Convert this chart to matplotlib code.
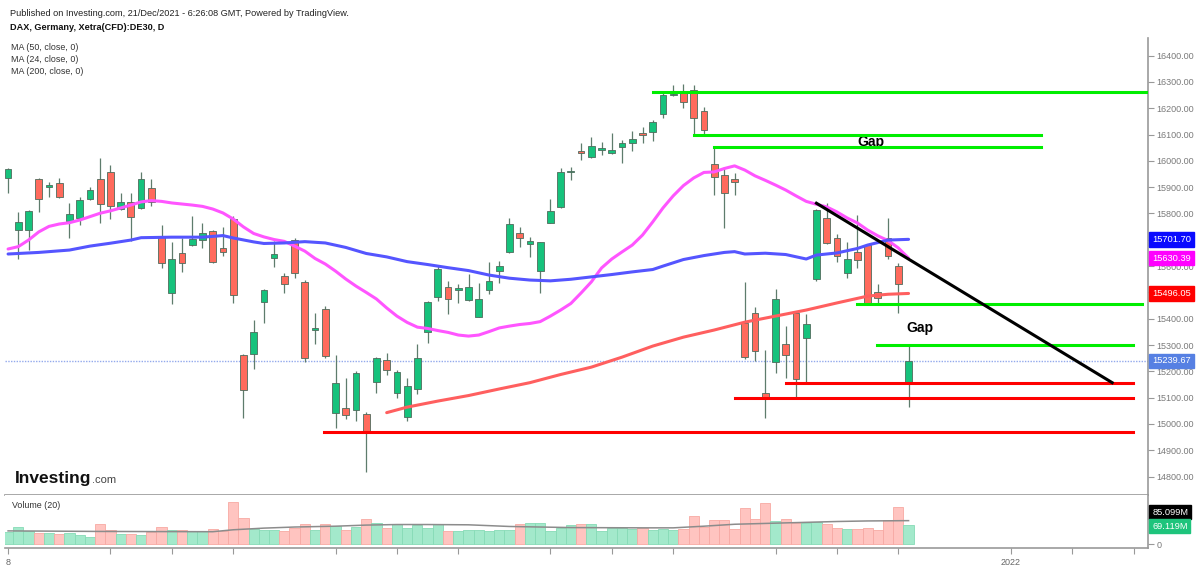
import numpy as np
import matplotlib
matplotlib.use("Agg")
import matplotlib.pyplot as plt

plt.rcParams['font.family'] = ['Liberation Sans', 'DejaVu Sans']

# daily candles (index 0 = first visible bar)
opens = [15936, 15737, 15737, 15931, 15900, 15915, 15773, 15782, 15856, 15930,
         15959, 15816, 15843, 15820, 15898, 15714, 15499, 15649, 15680, 15700,
         15733, 15669, 15778, 15261, 15265, 15462, 15632, 15562, 15699, 15541,
         15357, 15436, 15040, 15059, 15053, 15038, 15160, 15243, 15116, 15025,
         15132, 15351, 15484, 15519, 15509, 15471, 15408, 15509, 15581, 15652,
         15727, 15684, 15581, 15765, 15826, 15958, 16039, 16014, 16041, 16029,
         16053, 16069, 16105, 16111, 16178, 16249, 16263, 16270, 16191, 15988,
         15945, 15930, 15383, 15421, 15116, 15234, 15304, 15423, 15325, 15550,
         15782, 15706, 15573, 15652, 15680, 15503, 15708, 15600, 15154]
highs = [15973, 15807, 15812, 15935, 15921, 15936, 15839, 15864, 15900, 16010,
         15984, 15877, 15877, 15959, 15930, 15756, 15693, 15706, 15790, 15765,
         15737, 15748, 15792, 15265, 15395, 15512, 15697, 15575, 15706, 15547,
         15423, 15448, 15262, 15176, 15202, 15046, 15255, 15268, 15205, 15173,
         15303, 15468, 15604, 15544, 15532, 15570, 15535, 15617, 15619, 15784,
         15748, 15712, 15692, 15854, 15973, 15978, 16067, 16090, 16073, 16107,
         16079, 16115, 16128, 16156, 16267, 16289, 16292, 16289, 16206, 16054,
         15976, 15953, 15541, 15446, 15281, 15512, 15372, 15428, 15418, 15818,
         15839, 15722, 15693, 15794, 15684, 15532, 15784, 15611, 15300]
lows = [15878, 15626, 15661, 15807, 15864, 15858, 15706, 15756, 15851, 15765,
        15778, 15813, 15697, 15816, 15829, 15592, 15456, 15576, 15676, 15668,
        15611, 15640, 15459, 15021, 15208, 15383, 15598, 15499, 15556, 15237,
        15304, 15249, 14983, 15017, 15012, 14818, 15116, 15186, 15097, 15012,
        15113, 15306, 15468, 15418, 15459, 15468, 15405, 15494, 15535, 15648,
        15674, 15633, 15499, 15762, 15820, 15927, 16003, 16012, 16022, 16027,
        15991, 16037, 16069, 16077, 16162, 16245, 16200, 16098, 16098, 15870,
        15744, 15870, 15246, 15240, 15021, 15192, 15173, 15101, 15157, 15545,
        15684, 15617, 15554, 15592, 15452, 15456, 15626, 15423, 15063]
closes = [15968, 15769, 15808, 15854, 15908, 15862, 15797, 15851, 15889, 15836,
          15829, 15843, 15786, 15932, 15845, 15613, 15626, 15611, 15703, 15725,
          15614, 15652, 15490, 15129, 15348, 15509, 15645, 15532, 15575, 15249,
          15363, 15259, 15157, 15034, 15192, 14970, 15249, 15205, 15199, 15145,
          15249, 15465, 15588, 15475, 15516, 15522, 15474, 15543, 15600, 15760,
          15706, 15697, 15690, 15808, 15958, 15963, 16031, 16056, 16048, 16041,
          16069, 16084, 16097, 16149, 16251, 16254, 16225, 16162, 16117, 15938,
          15879, 15920, 15255, 15278, 15100, 15474, 15262, 15170, 15380, 15813,
          15687, 15640, 15626, 15623, 15456, 15478, 15638, 15531, 15239.67]
# volume in millions
volumes = [45, 62, 47, 39, 41, 35, 39, 33, 27, 74,
           53, 35, 38, 33, 45, 62, 52, 53, 48, 48,
           56, 48, 154, 95, 55, 52, 52, 48, 58, 74,
           53, 72, 66, 51, 61, 91, 75, 59, 74, 59,
           69, 59, 72, 47, 47, 52, 52, 47, 50, 53,
           72, 76, 76, 47, 59, 70, 74, 74, 47, 59,
           59, 56, 59, 50, 55, 51, 55, 103, 63, 88,
           86, 55, 130, 91, 148, 83, 91, 75, 75, 81,
           72, 59, 55, 55, 59, 52, 87, 136, 69.119]

# moving averages
ma24 = [15665, 15674, 15699, 15730, 15751, 15760, 15765, 15775, 15788, 15801,
        15810, 15821, 15832, 15844, 15849, 15846, 15840, 15836, 15832, 15827,
        15817, 15802, 15779, 15749, 15724, 15711, 15701, 15694, 15676, 15657,
        15629, 15608, 15581, 15551, 15524, 15500, 15475, 15441, 15410, 15386,
        15368, 15363, 15355, 15348, 15338, 15334, 15338, 15351, 15365, 15372,
        15378, 15382, 15389, 15410, 15433, 15458, 15498, 15540, 15593, 15627,
        15654, 15680, 15718, 15768, 15821, 15867, 15906, 15935, 15956, 15958,
        15971, 15981, 15965, 15943, 15926, 15908, 15889, 15867, 15846, 15835,
        15825, 15806, 15783, 15764, 15737, 15715, 15697, 15669, 15630.39]
ma50_idx = [0, 3, 6, 8, 10, 12, 13, 16, 19, 21, 22, 24, 25, 27, 29, 31, 33, 35, 37, 39,
            41, 43, 45, 47, 49, 51, 53, 55, 57, 59, 61, 63, 64, 66, 68, 70, 71, 72, 74,
            76, 78, 79, 81, 83, 84, 86, 88]
ma50_val = [15646, 15652, 15661, 15676, 15687, 15699, 15708, 15710, 15710, 15716, 15707,
            15692, 15686, 15688, 15693, 15688, 15671, 15648, 15635, 15617, 15606, 15594,
            15583, 15566, 15554, 15547, 15544, 15550, 15559, 15568, 15578, 15587, 15600,
            15625, 15640, 15652, 15655, 15646, 15649, 15644, 15627, 15642, 15650, 15667,
            15680, 15699, 15701.70]
ma200_idx = [37, 39, 42, 45, 48, 51, 54, 57, 60, 63, 66, 69, 72, 75, 78, 81, 84, 86, 88]
ma200_val = [15043, 15064, 15087, 15108, 15133, 15157, 15188, 15216, 15254, 15296,
             15330, 15357, 15387, 15410, 15433, 15460, 15486, 15493, 15496.05]
vol_ma_idx = [0, 9, 20, 22, 25, 28, 32, 35, 38, 41, 45, 49, 55, 62, 65, 68, 71, 75, 78, 81, 84, 88]
vol_ma_val = [48, 46, 45, 52, 58, 62, 65, 69, 71, 71, 70, 64, 60, 59, 59, 65, 72, 76, 79, 82, 84, 85.099]

# drawn levels: (price, start bar, end bar)
green_levels = [(16263, 63, 111.4), (16097, 67, 100.9), (16052, 69, 100.9),
                (15456, 83, 110.8), (15300, 84.9, 109.9)]
red_levels = [(15154, 76, 109.9), (15097, 71, 109.9), (14970, 30.9, 109.9)]
trend_x = [79, 107.9]
trend_y = [15839, 15157]

x_ticks = [0, 10, 16, 22, 32, 38, 44, 53, 59, 65, 75, 81, 87, 98, 104, 110]
x_labels = {0: '8', 98: '2022'}
# price-scale labels hidden under the value tags
hidden_ticks = [15500, 15700]

W, H = 1200, 566
fig = plt.figure(figsize=(W / 100, H / 100), dpi=100)
fig.patch.set_facecolor('white')

def fx(px):
    return px / W

def fy(py):
    return 1 - py / H

ax = fig.add_axes([fx(5), fy(495), fx(1148) - fx(5), fy(38) - fy(495)])
axv = fig.add_axes([fx(5), fy(548), fx(1148) - fx(5), fy(495) - fy(548)], sharex=ax)

idx = np.arange(len(closes))
up = np.array(closes) >= np.array(opens)
body_lo = np.minimum(opens, closes)
body_h = np.maximum(np.abs(np.array(closes) - np.array(opens)), 5)

green = '#16c27c'
red = '#ff6a5c'
edge = '#4f6b5c'

ax.vlines(idx, lows, highs, color='#5e7c6c', lw=0.9, zorder=2)
ax.bar(idx, body_h, bottom=body_lo, width=0.66,
       color=[green if u else red for u in up], edgecolor=edge, lw=0.6, zorder=2.2)

ax.plot(np.arange(len(ma24)), ma24, color='#ff55ff', lw=2.2, zorder=3, solid_capstyle='round')
ax.plot(ma50_idx, ma50_val, color='#5555ff', lw=2.2, zorder=3, solid_capstyle='round')
ax.plot(ma200_idx, ma200_val, color='#ff5f5f', lw=2.2, zorder=3, solid_capstyle='round')

ax.axhline(closes[-1], color='#93a9ec', lw=1.0, ls=(0, (1, 1)), zorder=1)

for p, a, b in green_levels:
    ax.plot([a, b], [p, p], color='#00ee00', lw=2.2, zorder=4)
for p, a, b in red_levels:
    ax.plot([a, b], [p, p], color='#ff0000', lw=2.2, zorder=4)
ax.plot(trend_x, trend_y, color='black', lw=2.2, zorder=4)

ax.text(84.3, 16072, 'Gap', fontsize=10, fontweight='bold', ha='center', va='center')
ax.text(89.1, 15365, 'Gap', fontsize=10, fontweight='bold', ha='center', va='center')

ax.set_xlim(-0.3, 111.4)
ax.set_ylim(14730, 16467)
ax.set_yticks(np.arange(14800, 16401, 100))
ax.yaxis.set_major_formatter(plt.FuncFormatter(
    lambda v, _: '' if round(v) in hidden_ticks else f'{v:.2f}'))
ax.yaxis.tick_right()
ax.tick_params(axis='y', labelsize=6.5, labelcolor='#7a7a7a', color='#999999',
               length=4, width=0.8, pad=2)
ax.tick_params(axis='x', bottom=False, labelbottom=False)
for s in ['top', 'left']:
    ax.spines[s].set_visible(False)
ax.spines['right'].set_color('#999999')
ax.spines['bottom'].set_color('#999999')
ax.spines['right'].set_linewidth(1.2)
ax.spines['bottom'].set_linewidth(1.2)

# volume pane
vcol = ['#a3e9cb' if u else '#ffc4c0' for u in up]
vedge = ['#86dbb6' if u else '#f7a9a3' for u in up]
axv.bar(idx, volumes, width=1.0, color=vcol, edgecolor=vedge, lw=0.6, zorder=2)
axv.plot(vol_ma_idx, vol_ma_val, color='#8c8c8c', lw=1.1, zorder=3)
axv.set_ylim(-14, 178)
axv.set_yticks([0])
axv.set_yticklabels(['0'])
axv.yaxis.tick_right()
axv.tick_params(axis='y', labelsize=6.5, labelcolor='#7a7a7a', color='#999999',
                length=4, width=0.8, pad=2)
axv.set_xticks(x_ticks)
axv.set_xticklabels([x_labels.get(t, '') for t in x_ticks])
axv.tick_params(axis='x', labelsize=6.5, labelcolor='#666666', color='#999999',
                length=4, width=0.8, pad=3)
axv.spines['top'].set_visible(False)
axv.spines['left'].set_visible(False)
axv.spines['right'].set_color('#999999')
axv.spines['bottom'].set_color('#999999')
axv.spines['right'].set_linewidth(1.2)
axv.spines['bottom'].set_linewidth(1.2)

# value tags on the price scale
def tag(axis, value, text, bg):
    axis.annotate(text, xy=(1.0, value), xycoords=('axes fraction', 'data'),
                  xytext=(3, 0), textcoords='offset points', ha='left', va='center',
                  fontsize=6.7, color='white', zorder=10, annotation_clip=False,
                  bbox=dict(boxstyle='square,pad=0.3', fc=bg, ec=bg))

tag(ax, ma50_val[-1], f'{ma50_val[-1]:.2f}', '#0a0aff')
tag(ax, ma24[-1], f'{ma24[-1]:.2f}', '#ff00ff')
tag(ax, ma200_val[-1], f'{ma200_val[-1]:.2f}', '#ff0000')
tag(ax, closes[-1], f'{closes[-1]:.2f}', '#5680e3')
# the two volume tags are stacked apart on the scale, as in the original
tag(axv, 116, f'{vol_ma_val[-1]:.3f}M', '#000000')
tag(axv, 65, f'{volumes[-1]:.3f}M', '#1ec47c')

# header texts
fig.text(fx(10), fy(13), 'Published on Investing.com, 21/Dec/2021 - 6:26:08 GMT, Powered by TradingView.',
         fontsize=6.6, color='#222222', va='center')
fig.text(fx(10), fy(27), 'DAX, Germany, Xetra(CFD):DE30, D', fontsize=6.6,
         fontweight='bold', color='#111111', va='center')
for k, lab in enumerate(['MA (50, close, 0)', 'MA (24, close, 0)', 'MA (200, close, 0)']):
    fig.text(fx(11), fy(48 + 11.8 * k), lab, fontsize=6.4, color='#333333', va='center')
fig.text(fx(12), fy(506), 'Volume (20)', fontsize=6.4, color='#333333', va='center')

# logo
logo = fig.text(fx(15), fy(478), 'Investing', fontsize=12.5, fontweight='bold',
                color='#111111', va='center')
fig.canvas.draw()
bb = logo.get_window_extent()
fig.text(bb.x1 / W + 0.0005, fy(480), '.com', fontsize=8, color='#444444', va='center')

fig.savefig('out.png', dpi=100, facecolor='white')
